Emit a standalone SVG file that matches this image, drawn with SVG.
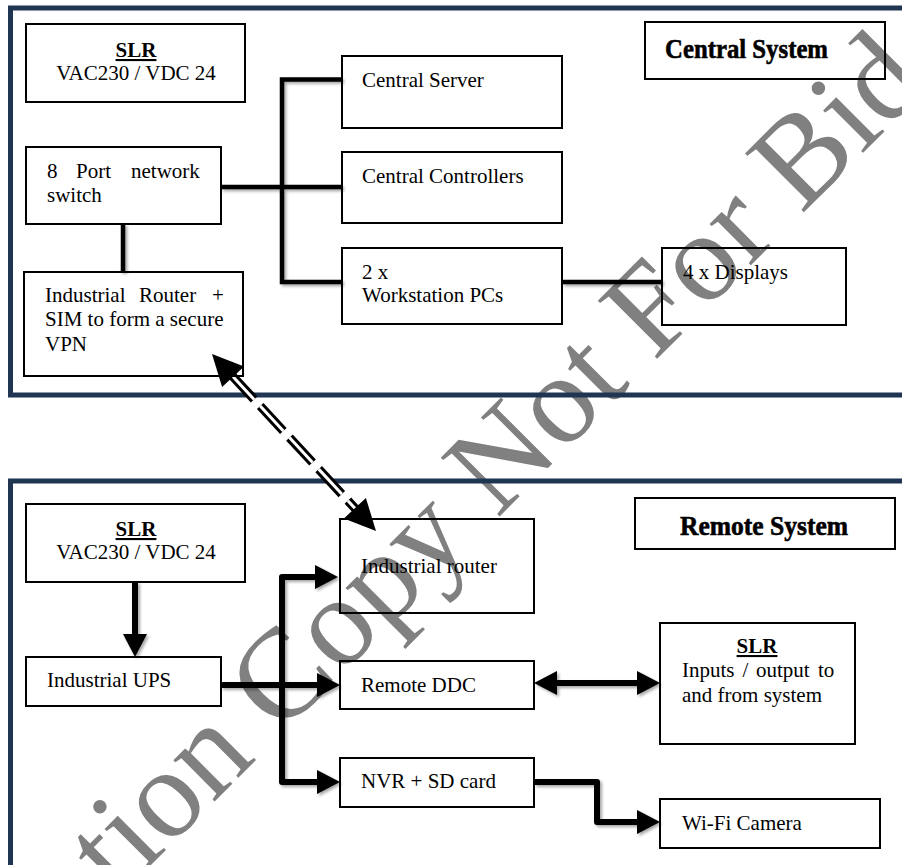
<svg xmlns="http://www.w3.org/2000/svg" width="902" height="865" viewBox="0 0 902 865">
<style>
.box{fill:none;stroke:#000;stroke-width:2}
.t{font-family:"Liberation Serif","Times New Roman",serif;font-size:21px;fill:#000}
.b{font-weight:bold;text-decoration:underline}
.title{font-family:"Liberation Serif","Times New Roman",serif;font-size:28px;font-weight:bold;fill:#000;stroke:#000;stroke-width:0.6}
.panel{fill:none;stroke:#1f3552;stroke-width:5}
.c1{fill:none;stroke:#000;stroke-width:4.5;stroke-linejoin:miter}
.c2{fill:none;stroke:#000;stroke-width:6;stroke-linejoin:round}
.wm{font-family:"Liberation Serif","Times New Roman",serif;font-size:127px;fill:#808080}
</style>
<defs>
<filter id="sh" x="-10%" y="-10%" width="130%" height="130%">
<feDropShadow dx="2" dy="2" stdDeviation="1.5" flood-color="#000" flood-opacity="0.35"/>
</filter>
<marker id="ah" markerUnits="userSpaceOnUse" markerWidth="24" markerHeight="24" refX="8" refY="12" orient="auto-start-reverse">
<path d="M0,0 L23,12 L0,24 z" fill="#000"/>
</marker>
</defs>
<rect width="902" height="865" fill="#fff"/>
<text class="wm" transform="translate(118,898) rotate(-45)" x="-353">Evaluation Copy Not For Bid</text>

<rect class="panel" x="10.5" y="8" width="1000" height="387"/>
<rect class="panel" x="10.5" y="481" width="1000" height="500"/>

<g id="connectors">
<g filter="url(#sh)">
<path class="c1" d="M342,79.5 H282 V282 H342"/>
<path class="c1" d="M221,187 H342"/>
<path class="c1" d="M123,224 V272"/>
<path class="c1" d="M562,282 H662"/>
<path class="c2" d="M135,582 V642" marker-end="url(#ah)"/>
<path class="c2" d="M323,577 H282 V782 H325" marker-start="url(#ah)" marker-end="url(#ah)"/>
<path class="c2" d="M221,685 H325" marker-end="url(#ah)"/>
<path class="c2" d="M549,683 H645" marker-start="url(#ah)" marker-end="url(#ah)"/>
<path class="c2" d="M534,782 H597 V822 H645" marker-end="url(#ah)"/>
</g>
<g id="vpn-link">
<line x1="231" y1="374.5" x2="357" y2="510.5" stroke="#000" stroke-width="9" stroke-dasharray="34 9"/>
<line x1="231" y1="374.5" x2="357" y2="510.5" stroke="#fff" stroke-width="3" stroke-dasharray="34 9"/>
<polygon points="212,354 244.1,366.6 222.1,387" fill="#000"/>
<polygon points="376,531 343.9,518.4 365.9,498" fill="#000"/>
</g>
</g>

<g id="central-slr">
<rect class="box" x="26" y="24" width="219" height="78"/>
<text class="t b" x="136" y="57" text-anchor="middle">SLR</text>
<text class="t" x="136" y="80" text-anchor="middle">VAC230 / VDC 24</text>
</g>
<g id="switch">
<rect class="box" x="26" y="147" width="195" height="77"/>
<text class="t" y="178"><tspan x="47">8</tspan><tspan x="76">Port</tspan><tspan x="131">network</tspan></text>
<text class="t" x="47" y="202">switch</text>
</g>
<g id="central-router">
<rect class="box" x="24" y="272" width="219" height="104"/>
<text class="t" y="302"><tspan x="45">Industrial</tspan><tspan x="139">Router</tspan><tspan x="212">+</tspan></text>
<text class="t" x="45" y="326">SIM to form a secure</text>
<text class="t" x="45" y="351">VPN</text>
</g>
<g id="central-server">
<rect class="box" x="342" y="56" width="220" height="72"/>
<text class="t" x="362" y="87">Central Server</text>
</g>
<g id="central-controllers">
<rect class="box" x="342" y="152" width="220" height="71"/>
<text class="t" x="362" y="183">Central Controllers</text>
</g>
<g id="workstations">
<rect class="box" x="342" y="248" width="220" height="76"/>
<text class="t" x="362" y="279">2 x</text>
<text class="t" x="362" y="302">Workstation PCs</text>
</g>
<g id="displays">
<rect class="box" x="662" y="248" width="184" height="77"/>
<text class="t" x="683" y="279">4 x Displays</text>
</g>
<g id="central-system-label">
<rect class="box" x="645" y="22" width="240" height="57"/>
<text class="title" x="665" y="58" textLength="163" lengthAdjust="spacingAndGlyphs">Central System</text>
</g>

<g id="remote-slr">
<rect class="box" x="26" y="504" width="219" height="78"/>
<text class="t b" x="136" y="536" text-anchor="middle">SLR</text>
<text class="t" x="136" y="559" text-anchor="middle">VAC230 / VDC 24</text>
</g>
<g id="ups">
<rect class="box" x="26" y="657" width="195" height="49"/>
<text class="t" x="47" y="687">Industrial UPS</text>
</g>
<g id="remote-router">
<rect class="box" x="340" y="519" width="194" height="94"/>
<text class="t" x="361" y="573">Industrial router</text>
</g>
<g id="remote-ddc">
<rect class="box" x="340" y="661" width="194" height="48"/>
<text class="t" x="361" y="692">Remote DDC</text>
</g>
<g id="nvr">
<rect class="box" x="340" y="758" width="194" height="49"/>
<text class="t" x="361" y="788">NVR + SD card</text>
</g>
<g id="remote-system-label">
<rect class="box" x="635" y="498" width="260" height="51"/>
<text class="title" x="680" y="535" textLength="168" lengthAdjust="spacingAndGlyphs">Remote System</text>
</g>
<g id="io-slr">
<rect class="box" x="660" y="623" width="195" height="121"/>
<text class="t b" x="757" y="653" text-anchor="middle">SLR</text>
<text class="t" y="677"><tspan x="682">Inputs</tspan><tspan x="742.5">/</tspan><tspan x="756">output</tspan><tspan x="818">to</tspan></text>
<text class="t" x="682" y="702">and from system</text>
</g>
<g id="camera">
<rect class="box" x="660" y="799" width="220" height="49"/>
<text class="t" x="682" y="830">Wi-Fi Camera</text>
</g>
</svg>
